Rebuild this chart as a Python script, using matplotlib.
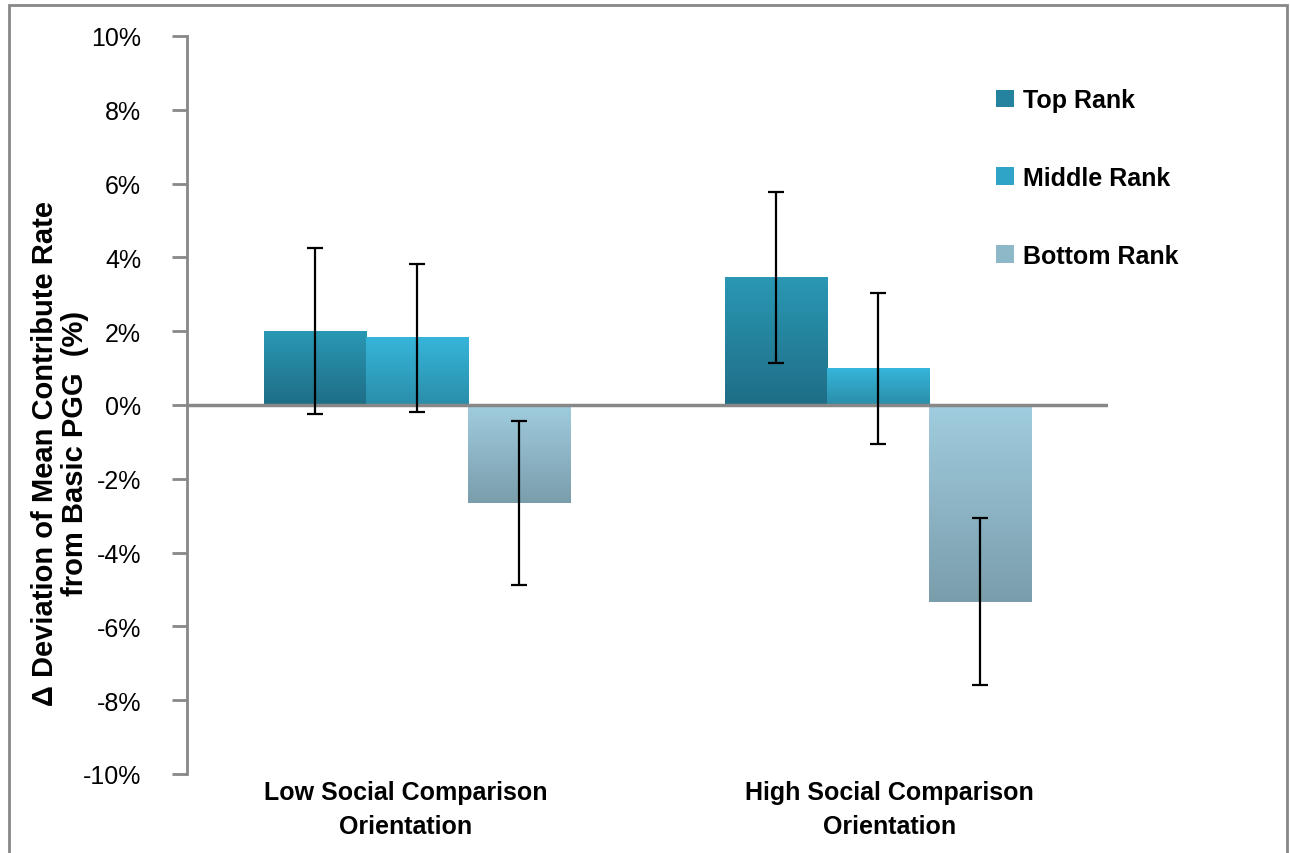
import matplotlib.pyplot as plt
import matplotlib.transforms as mtransforms
import numpy as np
from matplotlib.colors import LinearSegmentedColormap
from matplotlib.patches import Rectangle

plt.rcParams['font.family'] = ['Liberation Sans', 'DejaVu Sans']

# data (percent)
groups = ['Low Social Comparison\nOrientation', 'High Social Comparison\nOrientation']
series = ['Top Rank', 'Middle Rank', 'Bottom Rank']
top_rank = [2.0, 3.46]
middle_rank = [1.82, 0.99]
bottom_rank = [-2.66, -5.33]
top_err = [2.25, 2.31]
middle_err = [2.01, 2.04]
bottom_err = [2.22, 2.27]
yticks = [-10, -8, -6, -4, -2, 0, 2, 4, 6, 8, 10]

# (upper colour, lower colour) for each series' vertical gradient
grads = [('#2a98b4', '#1f6d86'), ('#36b5da', '#2a8ea9'), ('#a0cddf', '#7a9dab')]
mids = ['#2683a0', '#30a4c6', '#8db8c8']

fig = plt.figure(figsize=(12.9, 8.54), dpi=100)
ax = fig.add_axes([187 / 1290, 1 - 775 / 854, 921 / 1290, 738 / 854])

x = np.arange(len(groups))
w = 0.2215
vals = [top_rank, middle_rank, bottom_rank]
errs = [top_err, middle_err, bottom_err]

for i, (v, e) in enumerate(zip(vals, errs)):
    pos = x + (i - 1) * w
    bars = ax.bar(pos, v, w, color='none', edgecolor='none', label=series[i])
    cmap = LinearSegmentedColormap.from_list('g%d' % i, [grads[i][1], grads[i][0]])
    grad = np.linspace(0, 1, 256).reshape(-1, 1)
    for b in bars:
        x0, y0 = b.get_x(), b.get_y()
        x1, y1 = x0 + b.get_width(), y0 + b.get_height()
        lo, hi = min(y0, y1), max(y0, y1)
        ax.imshow(grad, cmap=cmap, origin='lower', aspect='auto',
                  extent=[x0, x1, lo, hi], zorder=2, interpolation='bilinear')
    ax.errorbar(pos, v, yerr=e, fmt='none', ecolor='black', elinewidth=1.6,
                capsize=6, capthick=1.6, zorder=4)

ax.axhline(0, color='#888888', lw=2.5, zorder=3)
ax.set_xlim(-0.5, 1.5)
ax.set_ylim(-10, 10)
ax.set_yticks(yticks)
ax.set_yticklabels(['%d%%' % t for t in yticks], fontsize=18)
ax.tick_params(axis='y', length=11, width=2, color='#888888', pad=22)
ax.set_xticks(x)
ax.set_xticklabels(groups, fontsize=18, fontweight='bold', linespacing=1.55)
ax.tick_params(axis='x', length=0, pad=4)
# category labels sit slightly apart from the group centres, as in the original
for lab, dx in zip(ax.get_xticklabels(), [-12, 12]):
    lab.set_transform(lab.get_transform() +
                      mtransforms.ScaledTranslation(dx / 100, 0, fig.dpi_scale_trans))
for s in ['top', 'right', 'bottom']:
    ax.spines[s].set_visible(False)
ax.spines['left'].set_color('#888888')
ax.spines['left'].set_linewidth(2)

fig.text(60 / 1290, 1 - 453 / 854, 'Δ Deviation of Mean Contribute Rate\nfrom Basic PGG  (%)',
         rotation=90, ha='center', va='center', fontsize=21, fontweight='bold',
         linespacing=1.1)

handles = [Rectangle((0, 0), 1, 1, facecolor=c, edgecolor='none') for c in mids]
leg = ax.legend(handles, series, loc='upper left', bbox_to_anchor=(0.8545, 0.96),
                frameon=False, handlelength=0.7, handleheight=0.7,
                handletextpad=0.35, labelspacing=2.15, prop={'weight': 'bold', 'size': 18})

# outer chart border
fig.patches.append(Rectangle((9 / 1290, -0.01), 1278 / 1290, 1 - 6 / 854 + 0.01,
                             transform=fig.transFigure, fill=False,
                             edgecolor='#888888', lw=2))

fig.savefig('out.png', dpi=100)
